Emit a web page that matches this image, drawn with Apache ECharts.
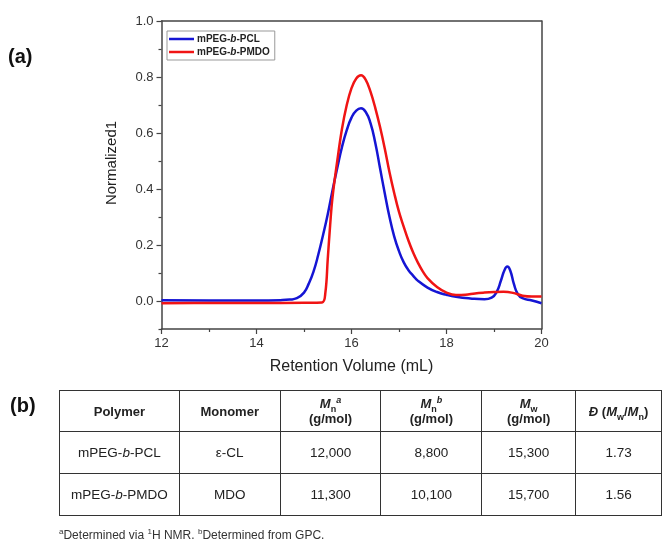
<!DOCTYPE html>
<html>
<head>
<meta charset="utf-8">
<script src="https://cdn.jsdelivr.net/npm/echarts@6/dist/echarts.min.js"></script>
<style>
  html, body { margin: 0; padding: 0; background: #fff; }
  #wrap { position: relative; width: 662px; height: 541px; overflow: hidden; font-family: "Liberation Sans", Arial, sans-serif; }
  #chart { position: absolute; left: 0; top: 0; width: 662px; height: 541px; }
  .panel { position: absolute; font-weight: bold; font-size: 20px; color: #111; line-height: 1; }
  #tbl { position: absolute; left: 59px; top: 390px; border-collapse: collapse; table-layout: fixed; color: #222; }
  #tbl td, #tbl th { border: 1.5px solid #333; text-align: center; padding: 0; font-size: 13px; }
  #tbl th { font-weight: bold; line-height: 15px; height: 40px; }
  #tbl td { height: 41px; font-size: 13.5px; }
  #tbl sub, #tbl sup { font-size: 9px; line-height: 0; }
  #foot { position: absolute; left: 59px; top: 528px; font-size: 12px; color: #333; white-space: nowrap; }
  #foot sup { font-size: 8px; line-height: 0; }
</style>
</head>
<body>
<div id="wrap">
  <div id="chart"></div>
  <div class="panel" style="left:8px; top:46px;">(a)</div>
  <div class="panel" style="left:10px; top:395px;">(b)</div>
  <table id="tbl"></table>
  <div id="foot"></div>
</div>
<script>
// ---- GPC trace data (retention volume mL, normalized signal) ----
const seriesNames = ['mPEG-b-PCL', 'mPEG-b-PMDO'];

const pclVolume = [12.0, 13.0, 14.0, 14.5, 14.7, 14.85, 15.0, 15.1, 15.2, 15.3, 15.4, 15.5, 15.6, 15.7, 15.8, 15.9, 16.0, 16.1, 16.2, 16.3, 16.4, 16.5, 16.6, 16.7, 16.8, 16.9, 17.0, 17.1, 17.2, 17.3, 17.4, 17.6, 17.8, 18.0, 18.2, 18.5, 18.8, 18.95, 19.05, 19.15, 19.22, 19.28, 19.34, 19.42, 19.5, 19.6, 19.8, 20.0];
const pclSignal = [0.003, 0.002, 0.002, 0.003, 0.005, 0.01, 0.03, 0.062, 0.105, 0.165, 0.235, 0.31, 0.395, 0.475, 0.55, 0.61, 0.655, 0.68, 0.688, 0.675, 0.635, 0.565, 0.475, 0.385, 0.30, 0.23, 0.178, 0.138, 0.11, 0.09, 0.072, 0.048, 0.032, 0.022, 0.015, 0.009, 0.006, 0.012, 0.03, 0.075, 0.11, 0.123, 0.11, 0.06, 0.025, 0.01, 0.002, -0.008];

const pmdoVolume = [12.0, 13.0, 14.0, 15.0, 15.38, 15.45, 15.5, 15.55, 15.6, 15.7, 15.8, 15.9, 16.0, 16.1, 16.2, 16.3, 16.4, 16.5, 16.6, 16.7, 16.8, 16.9, 17.0, 17.1, 17.2, 17.3, 17.4, 17.5, 17.6, 17.8, 18.0, 18.2, 18.4, 18.6, 18.8, 19.0, 19.2, 19.4, 19.6, 19.8, 20.0];
const pmdoSignal = [-0.008, -0.007, -0.007, -0.006, -0.005, 0.03, 0.15, 0.27, 0.37, 0.50, 0.615, 0.70, 0.76, 0.795, 0.806, 0.79, 0.748, 0.69, 0.622, 0.545, 0.46, 0.385, 0.318, 0.265, 0.215, 0.172, 0.136, 0.106, 0.082, 0.05, 0.03, 0.021, 0.022, 0.027, 0.03, 0.032, 0.033, 0.029, 0.019, 0.016, 0.016];

const yMajorTicks = [0, 0.2, 0.4, 0.6, 0.8, 1.0];
const yMinorTicks = [-0.1, 0.1, 0.3, 0.5, 0.7, 0.9];

// ---- Table data ----
const tableHeaders = ['Polymer', 'Monomer', '<i>M</i><sub>n</sub><sup><i>a</i></sup><br>(g/mol)', '<i>M</i><sub>n</sub><sup><i>b</i></sup><br>(g/mol)', '<i>M</i><sub>w</sub><br>(g/mol)', '<i>Đ</i> (<i>M</i><sub>w</sub>/<i>M</i><sub>n</sub>)'];
const polymers = ['mPEG-b-PCL', 'mPEG-b-PMDO'];
const monomers = ['ε-CL', 'MDO'];
const mnNMR = ['12,000', '11,300'];
const mnGPC = ['8,800', '10,100'];
const mwGPC = ['15,300', '15,700'];
const dispersity = ['1.73', '1.56'];
const colWidths = [120, 101, 101, 101, 94, 86];
const footnote = '<sup>a</sup>Determined via <sup>1</sup>H NMR. <sup>b</sup>Determined from GPC.';

// build table
const italB = s => s.replace('-b-', '-<i>b</i>-');
let html = '<colgroup>' + colWidths.map(w => `<col style="width:${w}px">`).join('') + '</colgroup>';
html += '<tr>' + tableHeaders.map(h => `<th>${h}</th>`).join('') + '</tr>';
for (let i = 0; i < polymers.length; i++) {
  html += '<tr>' + [italB(polymers[i]), monomers[i], mnNMR[i], mnGPC[i], mwGPC[i], dispersity[i]].map(c => `<td>${c}</td>`).join('') + '</tr>';
}
document.getElementById('tbl').innerHTML = html;
document.getElementById('foot').innerHTML = footnote;

// ---- Chart ----
const chart = echarts.init(document.getElementById('chart'), null, { renderer: 'canvas' });
const FONT = '"Liberation Sans", Arial, sans-serif';
const axisColor = '#444';
const zip = (xs, ys) => xs.map((x, i) => [x, ys[i]]);

const option = {
  animation: false,
  backgroundColor: 'transparent',
  grid: { left: 161.5, right: 120.5, top: 21, bottom: 212, containLabel: false },
  legend: {
    orient: 'vertical',
    left: 167, top: 31,
    padding: [3, 5, 3, 2],
    itemGap: 3,
    itemWidth: 25, itemHeight: 2.5,
    icon: 'rect',
    borderColor: '#999', borderWidth: 1,
    data: seriesNames,
    formatter: name => { const p = name.split('-b-'); return `{n|${p[0]}-}{i|b}{n|-${p[1]}}`; },
    textStyle: {
      padding: [0, 0, 0, -2],
      rich: {
        n: { fontFamily: FONT, fontWeight: 'bold', fontSize: 10, color: '#222' },
        i: { fontFamily: FONT, fontWeight: 'bold', fontStyle: 'italic', fontSize: 10, color: '#222' }
      }
    }
  },
  xAxis: [
    {
      type: 'value', min: 12, max: 20, interval: 2, position: 'bottom',
      name: 'Retention Volume (mL)', nameLocation: 'middle', nameGap: 30,
      nameTextStyle: { fontFamily: FONT, fontSize: 16, color: '#222' },
      axisLine: { onZero: false, lineStyle: { color: axisColor, width: 1.5 } },
      axisTick: { show: true, inside: false, length: 5, lineStyle: { color: axisColor, width: 1.2 } },
      minorTick: { show: true, splitNumber: 2, length: 3, lineStyle: { color: axisColor, width: 1.2 } },
      axisLabel: { margin: 8, fontFamily: FONT, fontSize: 13, color: '#333' },
      splitLine: { show: false }
    },
    {
      type: 'value', min: 12, max: 20, position: 'top',
      axisLine: { onZero: false, lineStyle: { color: axisColor, width: 1.5 } },
      axisTick: { show: false }, axisLabel: { show: false }, splitLine: { show: false }
    }
  ],
  yAxis: [
    {
      type: 'value', min: -0.1, max: 1.0, position: 'left',
      axisLine: { onZero: false, lineStyle: { color: axisColor, width: 1.5 } },
      axisTick: { show: true, inside: false, length: 5, customValues: yMajorTicks, lineStyle: { color: axisColor, width: 1.2 } },
      axisLabel: { margin: 8, customValues: yMajorTicks, formatter: v => v.toFixed(1), fontFamily: FONT, fontSize: 13, color: '#333' },
      splitLine: { show: false }
    },
    {
      type: 'value', min: -0.1, max: 1.0, position: 'left',
      axisLine: { show: false },
      axisTick: { show: true, inside: false, length: 3, customValues: yMinorTicks, lineStyle: { color: axisColor, width: 1.2 } },
      axisLabel: { show: false }, splitLine: { show: false }
    },
    {
      type: 'value', min: -0.1, max: 1.0, position: 'right',
      axisLine: { onZero: false, lineStyle: { color: axisColor, width: 1.5 } },
      axisTick: { show: false }, axisLabel: { show: false }, splitLine: { show: false }
    }
  ],
  graphic: [
    {
      type: 'text', x: 112, y: 163, rotation: Math.PI / 2,
      style: { text: 'Normalized1', fontFamily: FONT, fontSize: 15, fill: '#222', align: 'center', verticalAlign: 'middle' }
    }
  ],
  series: [
    {
      name: seriesNames[0], type: 'line', data: zip(pclVolume, pclSignal),
      symbol: 'none', smooth: 0.5,
      lineStyle: { color: '#1515d4', width: 2.5 }, itemStyle: { color: '#1515d4' },
      z: 3
    },
    {
      name: seriesNames[1], type: 'line', data: zip(pmdoVolume, pmdoSignal),
      symbol: 'none', smooth: 0.4,
      lineStyle: { color: '#f01414', width: 2.5 }, itemStyle: { color: '#f01414' },
      z: 4
    }
  ]
};
chart.setOption(option);
</script>
</body>
</html>
